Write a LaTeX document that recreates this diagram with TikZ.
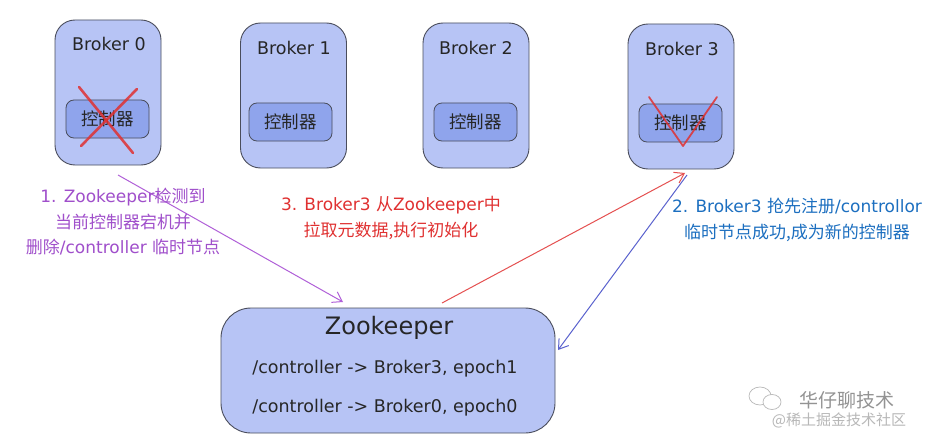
\documentclass[tikz,border=0pt]{standalone}
\usepackage{fontspec}
\setmainfont{DejaVu Sans}
\newfontfamily\cjk{Noto Sans CJK SC}
\usetikzlibrary{arrows.meta}
\definecolor{outerfill}{HTML}{B7C4F5}
\definecolor{innerfill}{HTML}{8FA4EC}
\definecolor{edge}{HTML}{4A4D5C}
\definecolor{ppl}{HTML}{A04FCB}
\definecolor{pplarrow}{HTML}{B060D8}
\definecolor{rd}{HTML}{E03131}
\definecolor{bl}{HTML}{1C6FC0}
\definecolor{blarrow}{HTML}{5A62CE}
\definecolor{wm}{HTML}{B8B8B8}
\tikzset{
  brokerbox/.style={draw=edge, fill=outerfill, line width=0.9pt, rounded corners=20pt, minimum width=106pt, minimum height=145pt, inner sep=0pt},
  ctrlbox/.style={draw=edge, fill=innerfill, line width=0.8pt, rounded corners=8pt, minimum width=83pt, minimum height=38pt, inner sep=0pt, font=\cjk\fontsize{17.5}{19}\selectfont, text=black!85},
  blabel/.style={font=\fontsize{17.5}{19}\selectfont, text=black!85},
  zkbox/.style={draw=edge, fill=outerfill, line width=0.9pt, rounded corners=30pt, minimum width=334pt, minimum height=125pt, inner sep=0pt},
  zkline/.style={font=\fontsize{17.5}{20}\selectfont, text=black!85},
  note/.style={align=center, font=\fontsize{17}{25.5}\selectfont, inner sep=0pt},
  arr/.style={line width=1pt, -{Straight Barb[length=9pt,width=12pt]}},
  crossline/.style={draw=rd, line width=2.6pt, opacity=0.85, line cap=round}
}
\begin{document}
\begin{tikzpicture}[x=1pt,y=-1pt]
\useasboundingbox (0,0) rectangle (935,444);
\fill[white] (0,0) rectangle (935,444);
% brokers
\node[brokerbox] (b0) at (108,92.5) {};
\node[brokerbox] (b1) at (293.5,95.5) {};
\node[brokerbox] (b2) at (476,95.5) {};
\node[brokerbox] (b3) at (681,96.5) {};
\node[blabel] (l0) at (109,44) {Broker 0};
\node[blabel] (l1) at (294,48) {Broker 1};
\node[blabel] (l2) at (476,48) {Broker 2};
\node[blabel] (l3) at (682,49) {Broker 3};
\node[ctrlbox] (c0) at (107.5,119) {控制器};
\node[ctrlbox] (c1) at (290.5,122) {控制器};
\node[ctrlbox] (c2) at (475.5,122) {控制器};
\node[ctrlbox] (c3) at (680.5,123) {控制器};
% cross on broker 0
\coordinate (x1a) at (79,87);
\coordinate (x1b) at (133,153);
\coordinate (x2a) at (137,89);
\coordinate (x2b) at (81,146);
\draw[crossline] (x1a) -- (x1b);
\draw[crossline] (x2a) -- (x2b);
% check on broker 3
\coordinate (k1) at (649,97);
\coordinate (k2) at (683,146);
\coordinate (k3) at (717,97);
\draw[draw=rd, line width=1.8pt, opacity=0.85, line cap=round, line join=round] (k1) -- (k2) -- (k3);
% zookeeper
\node[zkbox] (zk) at (388,370.5) {};
\node[font=\fontsize{24}{26}\selectfont, text=black!85] (zkt) at (389,328) {Zookeeper};
\node[zkline] (zk1) at (385,369) {/controller -> Broker3, epoch1};
\node[zkline] (zk2) at (385,408) {/controller -> Broker0, epoch0};
% arrows
\coordinate (p0) at (118,175);
\coordinate (p1) at (343,302);
\draw[arr, draw=pplarrow] (p0) -- (p1);
\coordinate (r0) at (442,303);
\coordinate (r1) at (685,173);
\draw[arr, draw=rd!85] (r0) -- (r1);
\coordinate (u0) at (687,175);
\coordinate (u1) at (558,350);
\draw[arr, draw=blarrow] (u0) -- (u1);
% notes
\node[note, text=ppl] (n1) at (123,222) {1. Zookeeper{\cjk 检测到}\\{\cjk 当前控制器宕机并}\\{\cjk 删除}/controller {\cjk 临时节点}};
\node[note, text=rd] (n3) at (391,218) {3. Broker3 {\cjk 从}Zookeeper{\cjk 中}\\{\cjk 拉取元数据,执行初始化}};
\node[note, text=bl] (n2) at (797,220) {2. Broker3 {\cjk 抢先注册}/controllor\\{\cjk 临时节点成功,成为新的控制器}};
% watermark
\draw[wm, line width=0.7pt] (760,396) ellipse (11pt and 9pt);
\draw[wm, line width=0.7pt, fill=white] (772,402) ellipse (9pt and 7.5pt);
\node[text=wm!80!black, font=\cjk\fontsize{19}{22}\selectfont, inner sep=0pt] (w1) at (847,400) {华仔聊技术};
\node[text=wm, font=\cjk\fontsize{15}{18}\selectfont, inner sep=0pt] (w2) at (839,420) {@稀土掘金技术社区};
\end{tikzpicture}
\end{document}
